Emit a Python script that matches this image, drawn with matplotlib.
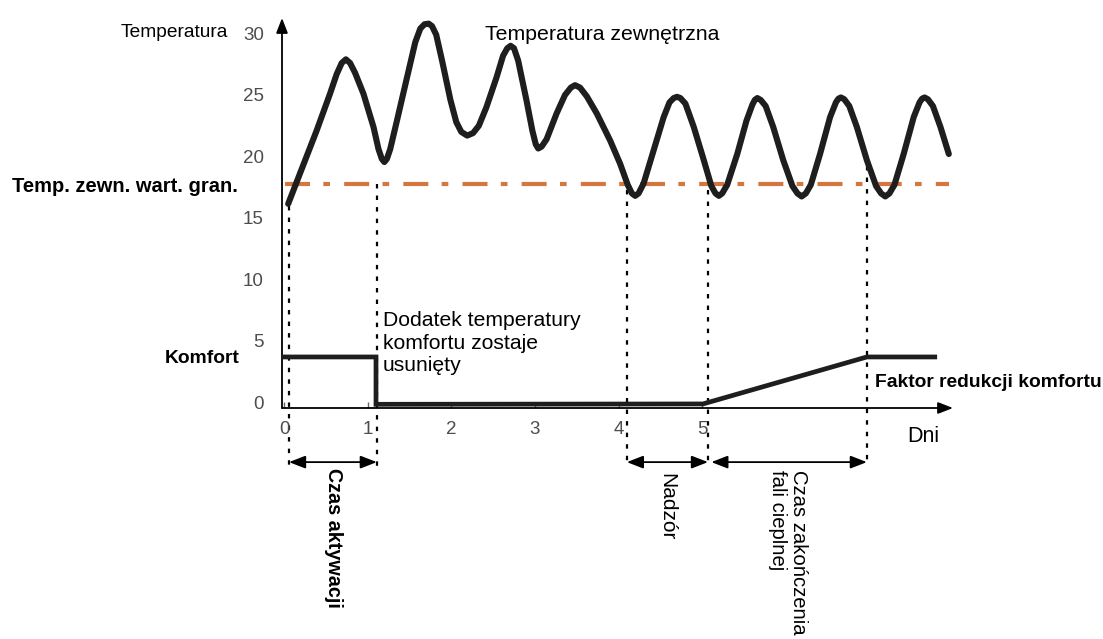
import matplotlib
matplotlib.use('Agg')
import matplotlib.pyplot as plt

plt.rcParams['font.family'] = ['Liberation Sans', 'DejaVu Sans']

# ---------------- data ----------------
temp_days = [0.05, 0.23, 0.39, 0.55, 0.63, 0.69, 0.74, 0.79, 0.85, 0.95, 1.07, 1.13,
             1.17, 1.20, 1.23, 1.27, 1.35, 1.47, 1.57, 1.63, 1.68, 1.73, 1.77, 1.82,
             1.89, 1.99, 2.06, 2.12, 2.19, 2.26, 2.33, 2.42, 2.54, 2.62, 2.67, 2.71,
             2.75, 2.80, 2.90, 2.97, 3.01, 3.04, 3.08, 3.14, 3.26, 3.36, 3.43, 3.48,
             3.54, 3.62, 3.74, 3.90, 4.02, 4.11, 4.16, 4.20, 4.24, 4.30, 4.42, 4.54,
             4.61, 4.66, 4.70, 4.74, 4.80, 4.90, 5.02, 5.11, 5.16, 5.20, 5.24, 5.30,
             5.42, 5.53, 5.60, 5.63, 5.66, 5.70, 5.76, 5.85, 5.97, 6.08, 6.14, 6.19,
             6.24, 6.30, 6.41, 6.53, 6.60, 6.63, 6.66, 6.70, 6.76, 6.85, 6.97, 7.08,
             7.14, 7.19, 7.24, 7.30, 7.41, 7.53, 7.60, 7.63, 7.66, 7.70, 7.76, 7.85,
             7.95]
temp_vals = [16.15, 19.3, 22.1, 25.1, 26.7, 27.6, 27.9, 27.6, 26.8, 25.1, 22.4, 20.6,
             19.8, 19.55, 19.8, 20.6, 22.9, 26.4, 29.3, 30.4, 30.75, 30.8, 30.6, 29.9,
             27.8, 24.6, 22.8, 22.0, 21.7, 21.9, 22.5, 24.0, 26.4, 28.2, 28.8, 29.0,
             28.8, 27.8, 24.55, 22.1, 21.0, 20.65, 20.8, 21.4, 23.5, 25.0, 25.6, 25.8,
             25.6, 24.9, 23.5, 21.3, 19.4, 17.7, 17.0, 16.8, 17.0, 17.8, 20.5, 23.2,
             24.4, 24.75, 24.85, 24.75, 24.3, 22.4, 19.7, 17.6, 17.0, 16.8, 17.0, 17.7,
             20.2, 22.9, 24.2, 24.6, 24.75, 24.6, 24.1, 22.4, 19.7, 17.6, 17.0, 16.75,
             17.0, 17.7, 20.2, 23.2, 24.4, 24.7, 24.8, 24.65, 24.1, 22.4, 19.7, 17.6,
             17.0, 16.75, 17.0, 17.7, 20.2, 23.2, 24.4, 24.7, 24.8, 24.65, 24.1, 22.4,
             20.2]

comfort_days = [-0.024, 1.10, 1.10, 5.01, 6.97, 7.81]
comfort_vals = [3.7, 3.7, -0.15, -0.12, 3.7, 3.7]

threshold = 17.8
threshold_span = [0.01, 7.95]

event_days = [0.06, 1.11, 4.10, 5.07, 6.97]
event_tops = [16.0, 17.8, 17.3, 17.3, 19.2]
event_bottom = -5.2

intervals = [(0.06, 1.11), (4.10, 5.07), (5.11, 6.97)]
interval_y = -4.85

x_ticks = [0, 1, 2, 3, 4, 5]
y_ticks = [0, 5, 10, 15, 20, 25, 30]

# ---------------- figure ----------------
W, H = 1103, 639
fig = plt.figure(figsize=(W / 100, H / 100), dpi=100)
ax = fig.add_axes([282 / W, 1 - 408 / H, (953 - 282) / W, (408 - 18) / H])
ax.set_xlim(-0.024, 8.0)
ax.set_ylim(-0.45, 31.26)


def fx(px):
    return px / W


def fy(py):
    return 1 - py / H


for s in ax.spines.values():
    s.set_visible(False)

# axes arrows
arrow_kw = dict(arrowstyle='-|>,head_length=0.9,head_width=0.35', color='black',
                lw=1.3, shrinkA=0, shrinkB=0, mutation_scale=10)
ax.annotate('', xy=(1.0, 0), xytext=(0, 0), xycoords='axes fraction',
            textcoords='axes fraction', arrowprops=arrow_kw, annotation_clip=False)
ax.annotate('', xy=(0, 1.0), xytext=(0, 0), xycoords='axes fraction',
            textcoords='axes fraction', arrowprops=arrow_kw, annotation_clip=False)

ax.set_xticks(x_ticks)
ax.set_xticklabels([str(t) for t in x_ticks])
ax.set_yticks(y_ticks)
ax.set_yticklabels([str(t) for t in y_ticks])
ax.tick_params(axis='x', direction='in', length=4, width=1, color='#666666',
               labelcolor='#4d4d4d', labelsize=13.5, pad=9)
ax.tick_params(axis='y', length=0, labelcolor='#4d4d4d', labelsize=13.5, pad=13)

# threshold
ax.plot(threshold_span, [threshold, threshold], color='#D4773F', lw=3.0,
        linestyle=(0, (6, 3.2, 1.6, 3.4)), solid_capstyle='butt', zorder=2)

# temperature curve
ax.plot(temp_days, temp_vals, color='#1e1e1e', lw=4.4, solid_capstyle='round',
        solid_joinstyle='round', zorder=3, clip_on=False)

# comfort line
ax.plot(comfort_days, comfort_vals, color='#1e1e1e', lw=3.4, solid_joinstyle='miter',
        solid_capstyle='butt', zorder=3, clip_on=False)

# dotted event lines
for d, top in zip(event_days, event_tops):
    ax.plot([d, d], [top, event_bottom], color='black', lw=1.6,
            linestyle=(0, (2, 3.2)), clip_on=False, zorder=1)

# interval arrows
for a, b in intervals:
    ax.annotate('', xy=(b, interval_y), xytext=(a, interval_y), xycoords='data',
                textcoords='data', annotation_clip=False,
                arrowprops=dict(arrowstyle='<|-|>,head_length=0.9,head_width=0.35',
                                color='black', lw=1.3, shrinkA=0, shrinkB=0,
                                mutation_scale=11))

# texts
fig.text(fx(228), fy(37), 'Temperatura', ha='right', va='baseline', fontsize=13.8)
fig.text(fx(485), fy(40), 'Temperatura zewnętrzna', ha='left', va='baseline', fontsize=15.3)
fig.text(fx(12), fy(192), 'Temp. zewn. wart. gran.', ha='left', va='baseline',
         fontsize=14.5, fontweight='bold')
fig.text(fx(165), fy(363), 'Komfort', ha='left', va='baseline', fontsize=13.9,
         fontweight='bold')
fig.text(fx(383), fy(311), 'Dodatek temperatury\nkomfortu zostaje\nusunięty',
         ha='left', va='top', fontsize=15.2, linespacing=1.25)
fig.text(fx(875), fy(387), 'Faktor redukcji komfortu', ha='left', va='baseline',
         fontsize=13.9, fontweight='bold')
fig.text(fx(907), fy(442), 'Dni', ha='left', va='baseline', fontsize=15.5)
fig.text(fx(333), fy(468), 'Czas aktywacji', rotation=-90, ha='center', va='top',
         fontsize=14.2, fontweight='bold')
fig.text(fx(667), fy(473), 'Nadzór', rotation=-90, ha='center', va='top', fontsize=15)
fig.text(fx(788), fy(470), 'Czas zakończenia\nfali cieplnej', rotation=-90,
         ha='center', va='top', fontsize=14.6, multialignment='left', linespacing=1.15)

fig.savefig('out.png', dpi=100)
